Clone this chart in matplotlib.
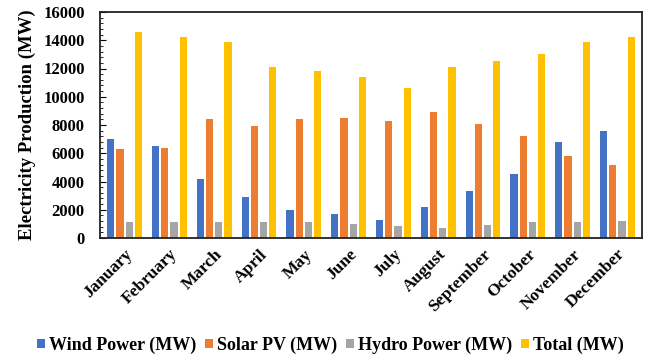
import matplotlib
matplotlib.use("Agg")
import matplotlib.pyplot as plt
import numpy as np
from matplotlib.ticker import MultipleLocator

months = ["January", "February", "March", "April", "May", "June", "July",
          "August", "September", "October", "November", "December"]
wind = [7000, 6500, 4200, 2900, 2000, 1700, 1300, 2200, 3300, 4500, 6800, 7600]
solar = [6300, 6400, 8400, 7900, 8400, 8500, 8300, 8900, 8100, 7200, 5800, 5200]
hydro = [1100, 1100, 1100, 1100, 1100, 1000, 850, 700, 950, 1100, 1100, 1200]
total = [14600, 14200, 13900, 12100, 11800, 11400, 10600, 12100, 12500, 13000, 13900, 14200]

series = [("Wind Power (MW)", wind, "#4472C4"),
          ("Solar PV (MW)", solar, "#ED7D31"),
          ("Hydro Power (MW)", hydro, "#A5A5A5"),
          ("Total (MW)", total, "#FFC000")]

plt.rcParams['font.family'] = ['Liberation Serif', 'DejaVu Serif']
plt.rcParams['font.weight'] = 'bold'

fig = plt.figure(figsize=(6.52, 3.62), dpi=100)
ax = fig.add_axes([100/652, 1-238/362, 542/652, 226/362])

x = np.arange(len(months))
w = 0.16
step = 0.205
for i, (name, vals, col) in enumerate(series):
    ax.bar(x + (i - 1.5) * step, vals, w, color=col, label=name, zorder=2)

ax.set_xlim(-0.55, len(months) - 0.45)
ax.set_ylim(0, 16000)
ax.yaxis.set_major_locator(MultipleLocator(2000))
ax.yaxis.set_minor_locator(MultipleLocator(400))
ax.tick_params(axis='y', which='major', direction='in', length=4, labelsize=12, pad=11)
ax.tick_params(axis='y', which='minor', direction='in', length=2.5)
ax.tick_params(axis='x', length=0, labelsize=12.5, pad=6)
ax.set_xticks(x)
ax.set_xticklabels(months, rotation=45, ha='right', rotation_mode='anchor')
for lab in ax.get_xticklabels() + ax.get_yticklabels():
    lab.set_fontweight('bold')
for s in ax.spines.values():
    s.set_linewidth(1.3)
    s.set_color('#222222')
ax.set_ylabel("Electricity Production (MW)", fontsize=13.5, fontweight='bold', labelpad=5)

ax.legend(loc='center', bbox_to_anchor=(0.425, -0.475), ncol=4, frameon=False,
          handlelength=0.45, handleheight=0.45, handletextpad=0.2,
          columnspacing=0.5, prop={'weight': 'bold', 'size': 13})

fig.savefig("out.png", dpi=100)
